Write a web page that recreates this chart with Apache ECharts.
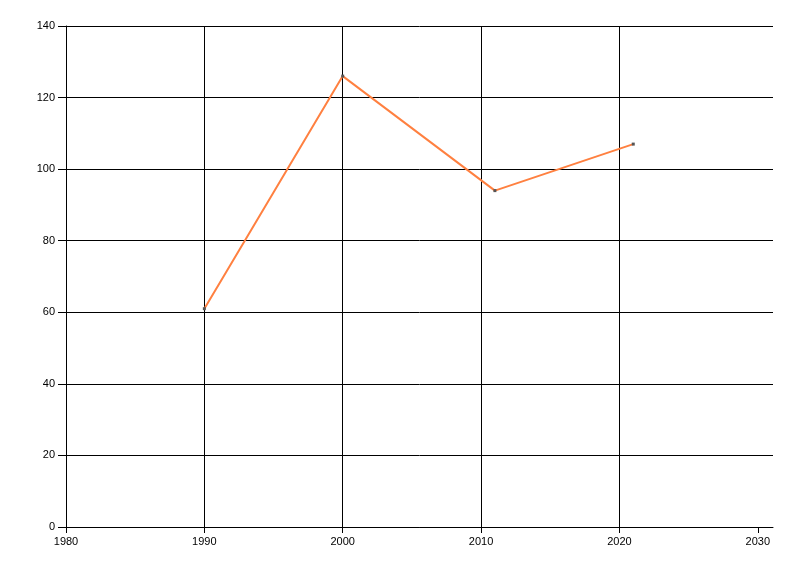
<!DOCTYPE html>
<html>
<head>
<meta charset="utf-8">
<script src="https://cdn.jsdelivr.net/npm/echarts@6/dist/echarts.min.js"></script>
<style>html,body{margin:0;padding:0;background:#fff}#c{width:800px;height:576px}</style>
</head>
<body>
<div id="c"></div>
<script>
const years = [1990, 2000, 2011, 2021];
const values = [61, 126, 94, 107];
const xTicks = [1980, 1990, 2000, 2010, 2020, 2030];

const chart = echarts.init(document.getElementById('c'), null, {renderer: 'canvas'});
const font = {fontFamily: 'Liberation Sans, Arial, sans-serif', fontSize: 11, color: '#000'};
chart.setOption({
  animation: false,
  grid: {left: 66, right: 27, top: 26, bottom: 49, containLabel: false},
  xAxis: {
    type: 'value', min: 1980, max: 2031.1, interval: 10,
    axisLine: {show: true, onZero: false, lineStyle: {color: '#000', width: 1}},
    axisTick: {show: true, inside: false, length: 6, lineStyle: {color: '#000'}, customValues: xTicks},
    axisLabel: Object.assign({margin: 9, customValues: xTicks, formatter: v => String(v)}, font),
    splitLine: {show: true, showMaxLine: false, lineStyle: {color: '#000', width: 1}}
  },
  yAxis: {
    type: 'value', min: 0, max: 140, interval: 20,
    axisLine: {show: true, lineStyle: {color: '#000', width: 1}},
    axisTick: {show: true, inside: false, length: 8, lineStyle: {color: '#000'}},
    axisLabel: Object.assign({margin: 11, formatter: v => String(v)}, font),
    splitLine: {show: true, lineStyle: {color: '#000', width: 1}}
  },
  series: [{
    type: 'line',
    data: years.map((y, i) => [y, values[i]]),
    symbol: 'rect', symbolSize: 3, showSymbol: true,
    lineStyle: {color: '#FF8040', width: 2},
    itemStyle: {color: '#555'},
    z: 5
  }]
});
</script>
</body>
</html>
